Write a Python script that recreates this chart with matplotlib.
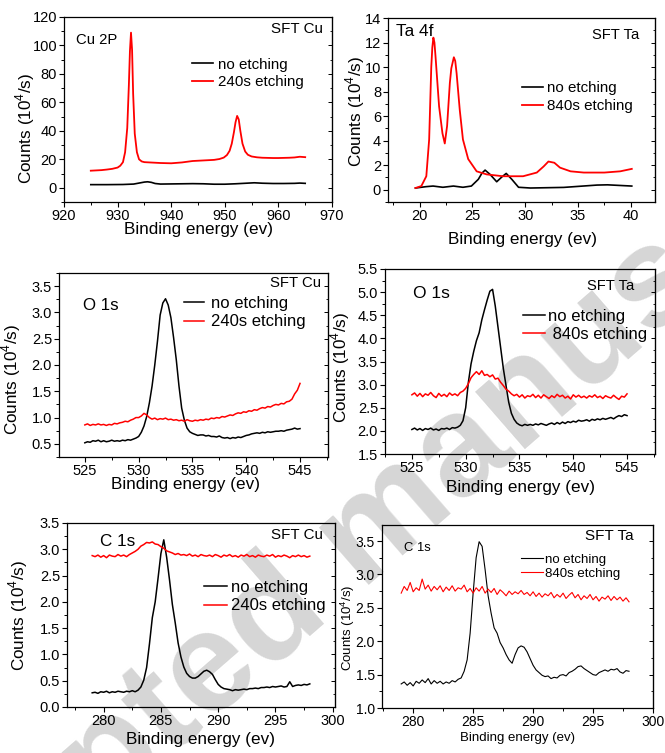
import matplotlib
matplotlib.use("Agg")
import matplotlib.pyplot as plt
from matplotlib.ticker import MultipleLocator

plt.rcParams["font.family"] = ["Liberation Sans", "DejaVu Sans"]
plt.rcParams["mathtext.fontset"] = "custom"
plt.rcParams["mathtext.rm"] = "Liberation Sans"

RED = "#ff0000"
BLACK = "#000000"

# ---- Cu 2p (SFT Cu) ----
cu2p_red_x = [925, 926, 927, 928, 929, 930, 930.5, 931, 931.4, 931.8, 932.1, 932.3, 932.5,
              932.7, 932.9, 933.2, 933.6, 934, 934.5, 935, 936, 937, 938, 939, 940, 941, 942,
              943, 944, 945, 946, 947, 948, 949, 949.8, 950.4, 950.9, 951.3, 951.7, 952.0,
              952.3, 952.6, 952.9, 953.3, 953.8, 954.3, 955, 956, 957, 958, 959, 960, 961,
              962, 963, 964, 965]
cu2p_red_y = [12, 12.2, 12.4, 12.8, 13.3, 14.2, 15.5, 18, 25, 42, 72, 96, 109,
              97, 66, 38, 25, 20, 18.5, 18, 17.8, 17.6, 17.4, 17.3, 17.2, 17.5, 17.8,
              18.3, 18.8, 19, 19.2, 19.4, 19.6, 20.2, 21.2, 23, 26, 31, 39, 46,
              50.5, 48, 40, 31, 25.5, 23.2, 22, 21.4, 21.1, 21, 20.9, 20.9, 21,
              21.1, 21.3, 21.8, 21.5]
cu2p_blk_x = [925, 928, 931, 933, 934, 935, 935.6, 936.3, 937, 938, 940, 942, 944, 946, 948,
              950, 952, 954, 955.5, 957, 959, 961, 963, 964, 965]
cu2p_blk_y = [2.2, 2.2, 2.3, 2.6, 3.3, 4.0, 4.2, 3.8, 3.0, 2.6, 2.7, 2.8, 2.9, 2.8, 2.5,
              2.5, 2.8, 3.2, 3.5, 3.2, 3.0, 3.0, 3.1, 3.3, 3.1]

# ---- Ta 4f (SFT Ta) ----
ta4f_red_x = [19.6, 20.16, 20.63, 20.9, 21.1, 21.2, 21.3, 21.4, 21.5, 21.84, 22.16, 22.38,
              22.6, 22.86, 23.0, 23.24, 23.37, 23.5, 23.8, 24.1, 24.6, 25.4, 26.35, 27.9,
              29.8, 31.1, 31.75, 32.2, 32.76, 33.3, 34.3, 35.55, 37.5, 39.0, 40.1]
ta4f_red_y = [0.14, 0.3, 1.1, 4.1, 10.0, 11.6, 12.4, 12.0, 10.9, 6.8, 4.6, 3.77,
              5.2, 8.7, 9.9, 10.8, 10.5, 9.5, 6.5, 4.1, 2.5, 1.5, 1.25, 1.1,
              1.1, 1.4, 1.9, 2.3, 2.2, 1.8, 1.5, 1.4, 1.4, 1.5, 1.7]
ta4f_blk_x = [19.6, 20.6, 21.27, 22.2, 23.2, 24.1, 24.9, 25.56, 25.9, 26.2, 26.67, 27.3,
              27.8, 28.2, 28.73, 29.37, 30.5, 33.65, 36.8, 37.8, 40.1]
ta4f_blk_y = [0.14, 0.25, 0.3, 0.2, 0.3, 0.2, 0.3, 0.85, 1.35, 1.6, 1.25, 0.65,
              1.05, 1.33, 0.85, 0.2, 0.14, 0.19, 0.38, 0.4, 0.3]

# ---- O 1s energy grid (both samples) ----
o1s_x = [525.0, 525.25, 525.5, 525.75, 526.0, 526.25, 526.5, 526.75,
         527.0, 527.25, 527.5, 527.75, 528.0, 528.25, 528.5, 528.75,
         529.0, 529.25, 529.5, 529.75, 530.0, 530.25, 530.5, 530.75,
         531.0, 531.25, 531.5, 531.75, 532.0, 532.25, 532.5, 532.75,
         533.0, 533.25, 533.5, 533.75, 534.0, 534.25, 534.5, 534.75,
         535.0, 535.25, 535.5, 535.75, 536.0, 536.25, 536.5, 536.75,
         537.0, 537.25, 537.5, 537.75, 538.0, 538.25, 538.5, 538.75,
         539.0, 539.25, 539.5, 539.75, 540.0, 540.25, 540.5, 540.75,
         541.0, 541.25, 541.5, 541.75, 542.0, 542.25, 542.5, 542.75,
         543.0, 543.25, 543.5, 543.75, 544.0, 544.25, 544.5, 544.75,
         545.0]
o1s_cu_blk = [0.52, 0.54, 0.53, 0.56, 0.55, 0.57, 0.54, 0.56,
              0.54, 0.55, 0.57, 0.55, 0.56, 0.55, 0.57, 0.56,
              0.58, 0.57, 0.59, 0.61, 0.64, 0.72, 0.84, 1.02,
              1.28, 1.60, 2.00, 2.45, 2.95, 3.18, 3.26, 3.14,
              2.90, 2.52, 2.10, 1.60, 1.18, 0.95, 0.80, 0.73,
              0.70, 0.68, 0.66, 0.67, 0.67, 0.65, 0.66, 0.64,
              0.64, 0.63, 0.65, 0.62, 0.61, 0.62, 0.60, 0.62,
              0.61, 0.63, 0.62, 0.64, 0.66, 0.67, 0.69, 0.70,
              0.71, 0.70, 0.72, 0.71, 0.73, 0.72, 0.73, 0.74,
              0.74, 0.75, 0.74, 0.76, 0.77, 0.78, 0.80, 0.78,
              0.79]
o1s_cu_red = [0.86, 0.88, 0.85, 0.87, 0.86, 0.88, 0.86, 0.87,
              0.85, 0.87, 0.86, 0.89, 0.88, 0.90, 0.91, 0.93,
              0.92, 0.95, 0.97, 1.00, 1.00, 1.03, 1.08, 1.05,
              1.00, 0.97, 0.99, 0.96, 0.98, 0.97, 0.99, 0.96,
              0.97, 0.95, 0.96, 0.94, 0.95, 0.93, 0.96, 0.94,
              0.93, 0.95, 0.94, 0.96, 0.95, 0.97, 0.96, 0.99,
              0.98, 1.00, 0.99, 1.02, 1.01, 1.03, 1.05, 1.04,
              1.07, 1.09, 1.08, 1.11, 1.10, 1.13, 1.12, 1.15,
              1.14, 1.17, 1.19, 1.18, 1.21, 1.20, 1.23, 1.25,
              1.24, 1.27, 1.26, 1.30, 1.31, 1.35, 1.45, 1.52,
              1.65]
o1s_ta_blk = [2.03, 2.06, 2.02, 2.05, 2.01, 2.05, 2.03, 2.06,
              2.02, 2.04, 2.01, 2.05, 2.04, 2.06, 2.03, 2.07,
              2.06, 2.08, 2.12, 2.22, 2.50, 3.05, 3.45, 3.72,
              3.95, 4.12, 4.40, 4.62, 4.83, 5.02, 5.06, 4.70,
              4.25, 3.80, 3.35, 2.98, 2.62, 2.38, 2.25, 2.17,
              2.13, 2.11, 2.14, 2.12, 2.14, 2.12, 2.15, 2.13,
              2.16, 2.14, 2.12, 2.15, 2.17, 2.14, 2.18, 2.15,
              2.19, 2.16, 2.20, 2.18, 2.21, 2.19, 2.23, 2.21,
              2.22, 2.24, 2.21, 2.25, 2.23, 2.26, 2.24, 2.27,
              2.25, 2.27, 2.29, 2.26, 2.30, 2.33, 2.31, 2.35,
              2.33]
o1s_ta_red = [2.78, 2.82, 2.75, 2.81, 2.74, 2.80, 2.77, 2.83,
              2.76, 2.72, 2.81, 2.75, 2.79, 2.74, 2.82, 2.77,
              2.80, 2.76, 2.83, 2.86, 2.92, 3.02, 3.15, 3.22,
              3.28, 3.22, 3.30, 3.20, 3.22, 3.17, 3.21, 3.12,
              3.14, 3.05, 2.98, 2.90, 2.86, 2.80, 2.76, 2.79,
              2.73, 2.78, 2.71, 2.76, 2.74, 2.79, 2.72, 2.77,
              2.71, 2.78, 2.74, 2.70, 2.76, 2.72, 2.79, 2.74,
              2.77, 2.71, 2.75, 2.69, 2.78, 2.73, 2.77, 2.72,
              2.75, 2.71, 2.76, 2.73, 2.78, 2.72, 2.75, 2.70,
              2.76, 2.73, 2.71, 2.77, 2.72, 2.68, 2.75, 2.73,
              2.80]

# ---- C 1s energy grid (both samples) ----
c1s_x = [279.0, 279.25, 279.5, 279.75, 280.0, 280.25, 280.5, 280.75,
         281.0, 281.25, 281.5, 281.75, 282.0, 282.25, 282.5, 282.75,
         283.0, 283.25, 283.5, 283.75, 284.0, 284.25, 284.5, 284.75,
         285.0, 285.25, 285.5, 285.75, 286.0, 286.25, 286.5, 286.75,
         287.0, 287.25, 287.5, 287.75, 288.0, 288.25, 288.5, 288.75,
         289.0, 289.25, 289.5, 289.75, 290.0, 290.25, 290.5, 290.75,
         291.0, 291.25, 291.5, 291.75, 292.0, 292.25, 292.5, 292.75,
         293.0, 293.25, 293.5, 293.75, 294.0, 294.25, 294.5, 294.75,
         295.0, 295.25, 295.5, 295.75, 296.0, 296.25, 296.5, 296.75,
         297.0, 297.25, 297.5, 297.75, 298.0]
c1s_cu_blk = [0.27, 0.28, 0.26, 0.29, 0.28, 0.30, 0.27, 0.29,
              0.28, 0.30, 0.29, 0.28, 0.30, 0.29, 0.31, 0.29,
              0.32, 0.38, 0.51, 0.75, 1.20, 1.70, 2.00, 2.45,
              2.92, 3.18, 2.85, 2.42, 1.95, 1.60, 1.22, 0.95,
              0.76, 0.64, 0.58, 0.55, 0.55, 0.58, 0.63, 0.68,
              0.70, 0.67, 0.62, 0.52, 0.43, 0.38, 0.35, 0.34,
              0.33, 0.31, 0.33, 0.32, 0.33, 0.34, 0.33, 0.35,
              0.35, 0.36, 0.35, 0.37, 0.37, 0.38, 0.37, 0.39,
              0.38, 0.39, 0.40, 0.38, 0.39, 0.48, 0.39, 0.41,
              0.42, 0.41, 0.43, 0.42, 0.44]
c1s_cu_red = [2.88, 2.86, 2.89, 2.85, 2.88, 2.84, 2.89, 2.87,
              2.86, 2.90, 2.87, 2.89, 2.86, 2.90, 2.93, 2.96,
              3.00, 3.06, 3.09, 3.13, 3.12, 3.14, 3.10, 3.09,
              3.05, 3.02, 2.97, 2.95, 2.93, 2.90, 2.92, 2.89,
              2.90, 2.88, 2.91, 2.87, 2.89, 2.86, 2.90, 2.88,
              2.87, 2.89, 2.86, 2.90, 2.88, 2.85, 2.89, 2.87,
              2.90, 2.86, 2.88, 2.85, 2.89, 2.87, 2.90, 2.86,
              2.88, 2.85, 2.89, 2.87, 2.86, 2.89, 2.87, 2.90,
              2.85, 2.88, 2.86, 2.89, 2.87, 2.84, 2.88, 2.86,
              2.89, 2.86, 2.88, 2.85, 2.87]
c1s_ta_blk = [1.36, 1.39, 1.34, 1.38, 1.33, 1.40, 1.37, 1.42,
              1.38, 1.44, 1.36, 1.41, 1.37, 1.40, 1.36, 1.39,
              1.37, 1.41, 1.39, 1.43, 1.45, 1.55, 1.72, 2.12,
              2.72, 3.25, 3.49, 3.42, 3.07, 2.68, 2.42, 2.20,
              2.12, 1.98, 1.90, 1.80, 1.72, 1.67, 1.80, 1.90,
              1.93, 1.91, 1.84, 1.74, 1.64, 1.57, 1.53, 1.49,
              1.47, 1.48, 1.44, 1.46, 1.45, 1.49, 1.50, 1.48,
              1.53, 1.55, 1.58, 1.62, 1.63, 1.59, 1.56, 1.53,
              1.50, 1.49, 1.53, 1.55, 1.57, 1.55, 1.58, 1.57,
              1.59, 1.54, 1.52, 1.56, 1.55]
c1s_ta_red = [2.72, 2.82, 2.76, 2.88, 2.74, 2.80, 2.76, 2.93,
              2.78, 2.84, 2.75, 2.82, 2.77, 2.83, 2.74, 2.81,
              2.76, 2.83, 2.75, 2.80, 2.78, 2.84, 2.74, 2.79,
              2.72, 2.80, 2.75, 2.82, 2.72, 2.78, 2.73, 2.79,
              2.70, 2.77, 2.73, 2.68, 2.75, 2.70, 2.74, 2.71,
              2.76, 2.70, 2.73, 2.68, 2.74, 2.67, 2.72, 2.66,
              2.71, 2.68, 2.73, 2.65, 2.70, 2.66, 2.72, 2.64,
              2.69, 2.73, 2.65, 2.70, 2.62, 2.68, 2.64, 2.70,
              2.62, 2.67, 2.60, 2.66, 2.63, 2.68, 2.61, 2.67,
              2.62, 2.66, 2.60, 2.65, 2.59]

YLABEL = r"Counts (10$^4$/s)"
XLABEL = "Binding energy (ev)"

W, H = 665, 753
fig = plt.figure(figsize=(W / 100, H / 100), dpi=100)


def make_axes(left, right, top, bottom):
    return fig.add_axes([left / W, 1 - bottom / H, (right - left) / W, (bottom - top) / H])


def style(ax, xlim, ylim, xmaj, ymaj, xlab_pos, ylab_pos, tick_fs=10.5, lab_fs=12.3):
    ax.set_facecolor("none")
    ax.set_xlim(*xlim)
    ax.set_ylim(*ylim)
    ax.xaxis.set_major_locator(MultipleLocator(xmaj))
    ax.xaxis.set_minor_locator(MultipleLocator(xmaj / 2))
    ax.yaxis.set_major_locator(MultipleLocator(ymaj))
    ax.yaxis.set_minor_locator(MultipleLocator(ymaj / 2))
    ax.tick_params(which="major", direction="out", length=3.5, width=0.8,
                   labelsize=tick_fs, pad=1.5)
    ax.tick_params(which="minor", direction="out", length=2, width=0.7)
    for s in ax.spines.values():
        s.set_linewidth(0.9)
    sec = ax.secondary_yaxis("right")
    sec.yaxis.set_major_locator(MultipleLocator(ymaj))
    sec.yaxis.set_minor_locator(MultipleLocator(ymaj / 2))
    sec.tick_params(which="major", direction="in", length=3, width=0.7, labelright=False)
    sec.tick_params(which="minor", direction="in", length=1.8, width=0.6, labelright=False)
    ax.set_xlabel(XLABEL, fontsize=lab_fs)
    ax.set_ylabel(YLABEL, fontsize=lab_fs)
    # label anchors: x label top edge, y label right edge (axes fraction)
    ax.xaxis.set_label_coords(*xlab_pos)
    ax.yaxis.set_label_coords(*ylab_pos)


def legend(ax, labels, x, y, fs, hl, pad, spacing=0.3):
    ax.legend(labels=labels, loc="upper left", bbox_to_anchor=(x, y), frameon=False,
              fontsize=fs, handlelength=hl, handletextpad=pad, borderpad=0,
              borderaxespad=0, labelspacing=spacing)


# Panel 1: Cu 2p
ax1 = make_axes(64, 332, 17, 202)
ax1.plot(cu2p_blk_x, cu2p_blk_y, color=BLACK, lw=1.2)
ax1.plot(cu2p_red_x, cu2p_red_y, color=RED, lw=1.3)
style(ax1, (920, 970), (-10, 120), 10, 20, (0.5, -0.108), (-0.102, 0.40))
legend(ax1, ["no etching", "240s etching"], 0.478, 0.78, 10.9, 1.4, 0.3, 0.25)
ax1.text(0.967, 0.935, "SFT Cu", transform=ax1.transAxes, ha="right", va="center", fontsize=10.9)
ax1.text(0.045, 0.876, "Cu 2P", transform=ax1.transAxes, ha="left", va="center", fontsize=10.7)

# Panel 2: Ta 4f
ax2 = make_axes(388, 655, 18, 202)
ax2.plot(ta4f_blk_x, ta4f_blk_y, color=BLACK, lw=1.2)
ax2.plot(ta4f_red_x, ta4f_red_y, color=RED, lw=1.3)
style(ax2, (17, 42.3), (-1, 14), 5, 2, (0.502, -0.163), (-0.079, 0.49))
legend(ax2, ["no etching", "840s etching"], 0.50, 0.655, 10.9, 1.4, 0.3, 0.25)
ax2.text(0.94, 0.908, "SFT Ta", transform=ax2.transAxes, ha="right", va="center", fontsize=10.6)
ax2.text(0.03, 0.926, "Ta 4f", transform=ax2.transAxes, ha="left", va="center", fontsize=12.4)

# Panel 3: O 1s, SFT Cu
ax3 = make_axes(59, 328, 273, 457)
ax3.plot(o1s_x, o1s_cu_blk, color=BLACK, lw=1.1)
ax3.plot(o1s_x, o1s_cu_red, color=RED, lw=1.1)
style(ax3, (522.6, 547.6), (0.25, 3.75), 5, 0.5, (0.47, -0.109), (-0.133, 0.42))
legend(ax3, ["no etching", "240s etching"], 0.465, 0.875, 12, 1.2, 0.4, 0.2)
ax3.text(0.973, 0.944, "SFT Cu", transform=ax3.transAxes, ha="right", va="center", fontsize=10.7)
ax3.text(0.089, 0.826, "O 1s", transform=ax3.transAxes, ha="left", va="center", fontsize=12.2)

# Panel 4: O 1s, SFT Ta
ax4 = make_axes(385, 655, 269, 454)
ax4.plot(o1s_x, o1s_ta_blk, color=BLACK, lw=1.1)
ax4.plot(o1s_x, o1s_ta_red, color=RED, lw=1.1)
style(ax4, (522.5, 547.6), (1.5, 5.5), 5, 0.5, (0.5, -0.14), (-0.123, 0.47))
legend(ax4, ["no etching", " 840s etching"], 0.511, 0.785, 12, 1.3, 0.2, 0.2)
ax4.text(0.923, 0.908, "SFT Ta", transform=ax4.transAxes, ha="right", va="center", fontsize=10.6)
ax4.text(0.102, 0.869, "O 1s", transform=ax4.transAxes, ha="left", va="center", fontsize=12.5)

# Panel 5: C 1s, SFT Cu
ax5 = make_axes(67, 335, 523, 707)
ax5.plot(c1s_x, c1s_cu_blk, color=BLACK, lw=1.1)
ax5.plot(c1s_x, c1s_cu_red, color=RED, lw=1.1)
style(ax5, (276.8, 300.2), (0, 3.5), 5, 0.5, (0.5, -0.136), (-0.138, 0.5))
legend(ax5, ["no etching", "240s etching"], 0.511, 0.69, 12, 1.4, 0.25, 0.2)
ax5.text(0.954, 0.935, "SFT Cu", transform=ax5.transAxes, ha="right", va="center", fontsize=10.9)
ax5.text(0.123, 0.90, "C 1s", transform=ax5.transAxes, ha="left", va="center", fontsize=12.3)

# Panel 6: C 1s, SFT Ta
ax6 = make_axes(382, 653, 525, 708)
ax6.plot(c1s_x, c1s_ta_blk, color=BLACK, lw=0.8)
ax6.plot(c1s_x, c1s_ta_red, color=RED, lw=0.8)
style(ax6, (277.4, 300), (1.0, 3.74), 5, 0.5, (0.5, -0.131), (-0.093, 0.44),
      tick_fs=10, lab_fs=9.5)
legend(ax6, ["no etching", "840s etching"], 0.512, 0.845, 9.5, 1.7, 0.15, 0.15)
ax6.text(0.93, 0.94, "SFT Ta", transform=ax6.transAxes, ha="right", va="center", fontsize=11)
ax6.text(0.081, 0.873, "C 1s", transform=ax6.transAxes, ha="left", va="center", fontsize=9.4)

# watermark behind the panels
fig.text(371 / W, 1 - 534 / H, "Accepted manuscript", rotation=41, rotation_mode="anchor",
         ha="center", va="center", fontsize=103, fontweight="bold", color="#d6d6d6",
         zorder=-1)

fig.savefig("out.png", dpi=100)
